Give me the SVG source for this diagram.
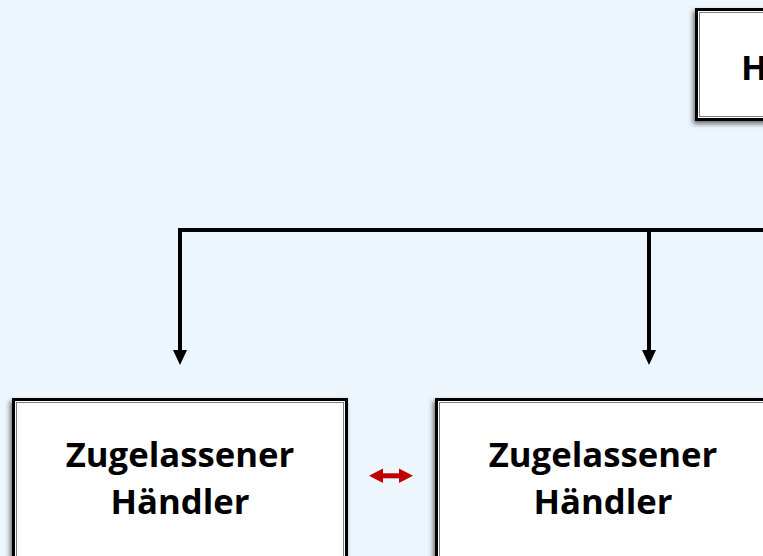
<svg xmlns="http://www.w3.org/2000/svg" width="763" height="556" viewBox="0 0 763 556">
<defs>
<filter id="sh" x="-20%" y="-20%" width="140%" height="140%">
<feDropShadow dx="-2" dy="3" stdDeviation="2.5" flood-color="#000" flood-opacity="0.55"/>
</filter>
</defs>
<style>
.outer{fill:#fff;stroke:#000;stroke-width:3}
.inner{fill:none;stroke:#808080;stroke-width:1}
.lbl{font-family:"Open Sans","Liberation Sans",sans-serif;font-weight:700;font-size:34.7px;fill:#000;text-anchor:middle}
.conn{fill:none;stroke:#000;stroke-width:4}
.head{fill:#000}
</style>
<rect width="763" height="556" fill="#EEF6FD"/>
<g id="top-node">
<rect class="outer" x="696.5" y="9.5" width="150" height="110" filter="url(#sh)"/>
<rect class="inner" x="699.5" y="12.5" width="144" height="104"/>
<text class="lbl" x="741" y="80" style="text-anchor:start">H</text>
</g>
<g id="connectors">
<path class="conn" d="M180 351 V230 H763"/>
<path class="conn" d="M649 230 V351"/>
<polygon class="head" points="173,350 187,350 180,365"/>
<polygon class="head" points="642,350 656,350 649,365"/>
<g id="red-link" fill="#C00000">
<rect x="380" y="473.3" width="22" height="5"/>
<polygon points="369,475.8 383,468.5 383,483"/>
<polygon points="413,475.8 399,468.5 399,483"/>
</g>
</g>
<g id="left-node">
<rect class="outer" x="13.5" y="399.5" width="333" height="200" filter="url(#sh)"/>
<rect class="inner" x="16.5" y="402.5" width="327" height="194"/>
<text class="lbl" x="180" y="467">Zugelassener</text>
<text class="lbl" x="180" y="514">Händler</text>
</g>
<g id="right-node">
<rect class="outer" x="436.5" y="399.5" width="333" height="200" filter="url(#sh)"/>
<rect class="inner" x="439.5" y="402.5" width="327" height="194"/>
<text class="lbl" x="603" y="467">Zugelassener</text>
<text class="lbl" x="603" y="514">Händler</text>
</g>
</svg>
